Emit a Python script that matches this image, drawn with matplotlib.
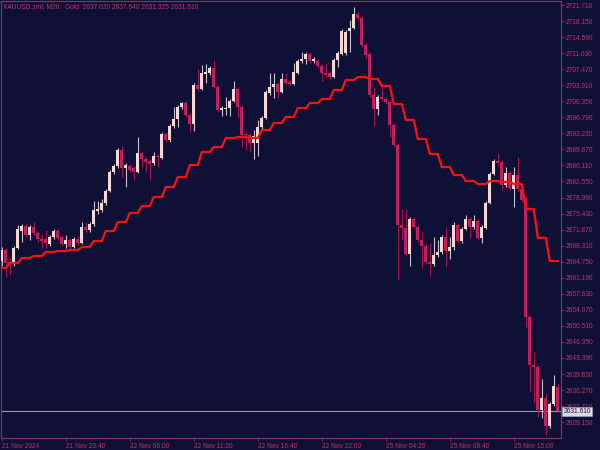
import numpy as np
import matplotlib.pyplot as plt

# XAUUSD M20 candles (bar 0 = 21 Nov 2024)
opens = [
    2664.9, 2667.3, 2664.7, 2664.5, 2667.8, 2671.6, 2672.7, 2670.7, 2672.5, 2671.1,
    2669.8, 2669.8, 2668.7, 2670.2, 2671.6, 2670.2, 2668.7, 2669.6, 2668.0, 2669.8,
    2668.9, 2672.5, 2671.8, 2673.1, 2676.0, 2676.2, 2677.8, 2680.4, 2684.7, 2686.0,
    2689.5, 2685.5, 2686.0, 2685.5, 2684.7, 2688.9, 2687.5, 2687.1, 2686.7, 2688.2,
    2687.8, 2693.1, 2691.8, 2694.9, 2696.4, 2699.1, 2700.0, 2697.3, 2695.3, 2704.0,
    2703.1, 2706.4, 2706.6, 2707.7, 2703.5, 2698.4, 2698.6, 2698.9, 2700.4, 2703.1,
    2699.1, 2693.1, 2692.9, 2691.1, 2691.1, 2694.6, 2696.6, 2702.2, 2703.5, 2704.2,
    2702.4, 2705.3, 2704.6, 2704.2, 2706.6, 2709.3, 2709.7, 2710.8, 2709.3, 2709.3,
    2708.2, 2706.6, 2706.6, 2705.7, 2709.5, 2710.8, 2711.0, 2715.9, 2716.6, 2719.7,
    2718.8, 2712.8, 2710.8, 2701.7, 2698.6, 2701.3, 2700.9, 2700.2, 2695.1, 2690.7,
    2672.9, 2672.2, 2666.5, 2674.2, 2672.5, 2669.6, 2668.2, 2664.7, 2664.2, 2666.2,
    2666.9, 2670.2, 2667.1, 2668.0, 2672.9, 2669.3, 2672.0, 2674.2, 2672.5, 2673.8,
    2670.0, 2672.2, 2677.8, 2684.2, 2687.1, 2686.9, 2681.8, 2684.4, 2680.9, 2684.0,
    2680.9, 2678.7, 2652.5, 2641.8, 2641.4, 2631.8, 2634.5, 2628.3, 2633.2, 2637.02,
]
highs = [
    2668.0, 2667.8, 2665.6, 2668.2, 2672.9, 2673.1, 2673.3, 2672.9, 2673.6, 2671.6,
    2670.9, 2671.8, 2670.7, 2672.0, 2672.0, 2670.7, 2670.7, 2670.0, 2670.2, 2670.4,
    2673.6, 2673.6, 2673.6, 2678.2, 2678.2, 2678.7, 2680.9, 2685.1, 2686.4, 2690.0,
    2690.4, 2686.7, 2686.4, 2686.0, 2692.4, 2689.3, 2688.0, 2687.5, 2689.1, 2688.7,
    2693.5, 2693.5, 2695.3, 2699.1, 2699.5, 2700.2, 2700.4, 2697.8, 2704.4, 2707.5,
    2708.4, 2708.6, 2708.2, 2709.5, 2704.0, 2699.3, 2701.3, 2700.9, 2704.9, 2703.5,
    2699.5, 2693.5, 2693.3, 2694.0, 2696.2, 2697.1, 2702.9, 2706.6, 2706.6, 2704.6,
    2706.6, 2706.6, 2705.1, 2708.8, 2709.7, 2711.3, 2711.3, 2711.3, 2710.2, 2709.7,
    2708.6, 2708.8, 2707.1, 2710.0, 2711.5, 2716.4, 2716.2, 2718.4, 2721.3, 2720.2,
    2719.3, 2713.3, 2711.3, 2703.5, 2701.7, 2704.4, 2701.3, 2700.6, 2695.5, 2691.1,
    2676.4, 2676.4, 2674.7, 2674.7, 2672.9, 2671.3, 2668.7, 2668.9, 2670.2, 2669.6,
    2670.7, 2672.5, 2670.2, 2673.6, 2673.3, 2672.5, 2675.1, 2674.7, 2675.1, 2674.2,
    2672.9, 2678.2, 2684.7, 2687.5, 2688.9, 2687.3, 2685.8, 2684.9, 2685.8, 2688.0,
    2681.3, 2679.1, 2652.9, 2644.7, 2641.8, 2638.7, 2635.6, 2633.6, 2639.6, 2637.64,
]
lows = [
    2663.8, 2661.4, 2661.8, 2663.8, 2667.6, 2669.1, 2670.2, 2669.6, 2670.7, 2669.1,
    2667.8, 2667.8, 2668.2, 2669.8, 2669.6, 2668.2, 2667.8, 2667.6, 2667.8, 2668.5,
    2668.7, 2671.3, 2671.3, 2672.7, 2675.3, 2675.8, 2677.3, 2680.2, 2684.2, 2685.5,
    2683.5, 2681.3, 2684.7, 2682.9, 2684.4, 2685.8, 2684.7, 2682.9, 2686.2, 2685.8,
    2687.5, 2691.3, 2691.3, 2694.4, 2694.6, 2698.6, 2696.9, 2693.5, 2693.8, 2702.6,
    2702.9, 2704.4, 2706.2, 2703.3, 2698.0, 2697.1, 2697.3, 2697.1, 2700.2, 2696.9,
    2690.2, 2689.5, 2689.1, 2687.5, 2688.2, 2694.2, 2696.4, 2701.7, 2701.1, 2701.1,
    2702.2, 2704.0, 2703.7, 2704.0, 2706.4, 2708.8, 2708.6, 2708.8, 2708.8, 2707.7,
    2704.9, 2705.7, 2705.1, 2705.5, 2708.0, 2710.6, 2710.6, 2711.3, 2716.4, 2718.4,
    2712.4, 2710.0, 2701.3, 2694.9, 2697.3, 2700.4, 2699.7, 2692.4, 2690.2, 2660.7,
    2669.6, 2666.0, 2663.8, 2672.0, 2669.1, 2663.4, 2664.2, 2661.6, 2663.8, 2665.8,
    2666.5, 2663.6, 2665.4, 2667.3, 2668.9, 2668.9, 2671.8, 2670.0, 2672.0, 2669.6,
    2668.9, 2672.0, 2677.6, 2684.0, 2686.2, 2680.7, 2681.3, 2680.7, 2676.9, 2680.4,
    2678.0, 2650.3, 2635.8, 2633.6, 2630.3, 2630.1, 2626.3, 2627.9, 2632.7, 2631.325,
]
closes = [
    2667.3, 2664.5, 2664.2, 2667.8, 2672.0, 2672.7, 2670.7, 2672.5, 2671.1, 2669.8,
    2669.3, 2668.9, 2670.2, 2671.6, 2670.0, 2668.7, 2669.6, 2668.0, 2669.8, 2668.9,
    2672.5, 2671.8, 2673.1, 2676.2, 2676.4, 2677.8, 2680.4, 2684.7, 2686.0, 2689.5,
    2685.5, 2686.2, 2685.1, 2684.7, 2688.9, 2687.5, 2686.9, 2686.4, 2688.2, 2688.0,
    2693.1, 2691.8, 2694.9, 2696.4, 2699.1, 2700.0, 2697.3, 2695.3, 2704.0, 2703.1,
    2706.6, 2706.8, 2707.7, 2703.5, 2698.4, 2698.9, 2698.9, 2700.4, 2703.1, 2699.1,
    2692.9, 2692.9, 2691.1, 2692.6, 2694.6, 2696.6, 2702.4, 2703.5, 2704.2, 2702.4,
    2705.3, 2704.4, 2704.2, 2706.8, 2709.3, 2709.7, 2710.8, 2709.3, 2709.7, 2708.2,
    2706.6, 2706.2, 2705.7, 2709.5, 2711.1, 2715.9, 2715.7, 2716.6, 2719.7, 2718.8,
    2712.8, 2710.6, 2701.7, 2698.6, 2701.3, 2700.9, 2700.2, 2695.1, 2690.7, 2672.9,
    2672.2, 2666.5, 2674.2, 2672.5, 2669.6, 2668.2, 2664.7, 2664.2, 2666.2, 2666.9,
    2670.2, 2667.1, 2668.0, 2672.9, 2669.3, 2672.0, 2674.2, 2672.5, 2673.8, 2670.0,
    2672.5, 2677.8, 2684.2, 2687.1, 2686.7, 2681.8, 2684.4, 2681.1, 2684.0, 2680.9,
    2678.4, 2652.5, 2641.8, 2641.4, 2631.8, 2634.5, 2628.3, 2633.2, 2637.2, 2631.61,
]

# higher timeframe (H1) line, one value per hour
ma_h1 = [2663.35, 2664.46, 2665.57, 2666.01, 2666.90, 2667.12, 2667.34, 2668.01,
         2669.34, 2671.56, 2673.56, 2675.56, 2677.11, 2679.11, 2681.32, 2683.54,
         2686.21, 2689.09, 2690.20, 2692.20, 2692.42, 2692.20, 2693.97, 2695.53,
         2696.86, 2698.85, 2699.96, 2700.85, 2702.85, 2705.07, 2705.73, 2705.29,
         2703.74, 2699.74, 2696.19, 2691.98, 2688.65, 2685.76, 2683.99, 2682.66,
         2681.99, 2682.66, 2682.43, 2681.99, 2676.44, 2670.01, 2664.91]
bars_per_hour = [2] + [3] * 46

time_labels = ['21 Nov 2024', '21 Nov 23:40', '22 Nov 06:00', '22 Nov 11:20',
               '22 Nov 16:40', '22 Nov 22:00', '25 Nov 04:20', '25 Nov 09:40',
               '25 Nov 15:00']
price_top = 2721.71
price_step = 3.56
bid = 2631.61
title = 'XAUUSD.sml, M20:  Gold  2637.020 2637.640 2631.325 2631.610'

bg = '#0e1036'
txt = '#b83a68'
spine = '#8e3560'
bull = '#f7d8d2'
bear = '#c41e5a'

plt.rcParams['font.family'] = ['Liberation Sans', 'DejaVu Sans']

o = np.array(opens)
h = np.array(highs)
l = np.array(lows)
c = np.array(closes)
x = np.arange(len(o))
up = c >= o

fig = plt.figure(figsize=(6, 4.5), dpi=100, facecolor=bg)
ax = fig.add_axes([1 / 600, 12 / 450, 560 / 600, 437 / 450], facecolor=bg)

# wicks
ax.vlines(x[up], l[up], h[up], color='#c9c2cc', lw=0.8, zorder=2)
ax.vlines(x[~up], l[~up], h[~up], color='#a0184a', lw=0.8, zorder=2)
# bodies
bot = np.minimum(o, c)
hgt = np.maximum(np.abs(c - o), 0.25)
ax.bar(x[up], hgt[up], bottom=bot[up], width=0.7, color=bull, lw=0, zorder=3)
ax.bar(x[~up], hgt[~up], bottom=bot[~up], width=0.7, color=bear, lw=0, zorder=3)

# H1 line
ma = np.repeat(ma_h1, bars_per_hour)
ax.plot(x, ma, color='#ff1010', lw=1.6, zorder=4)

# bid line
ax.axhline(bid, color='#9a9ab2', lw=0.8, zorder=1)
ax.text(1.004, bid, f'{bid:.3f}', transform=ax.get_yaxis_transform(),
        fontsize=4.8, color='#1a1840', va='center', ha='left',
        bbox=dict(boxstyle='square,pad=0.15', fc='#dcd8e4', ec='#9a9ab2', lw=0.6),
        zorder=6, clip_on=False)

ax.set_xlim(-0.2, 139.8)
ax.set_ylim(2625.63, 2722.6)

yt = [price_top - price_step * k for k in range(27)]
ax.yaxis.tick_right()
ax.set_yticks(yt)
ax.set_yticklabels([f'{v:.3f}' for v in yt])
ax.set_xticks(np.arange(len(time_labels)) * 16)
ax.set_xticklabels(time_labels, ha='left')
ax.tick_params(axis='both', colors=spine, labelcolor=txt, labelsize=4.8,
               length=2.5, width=0.6, pad=1)

for s in ax.spines.values():
    s.set_color(spine)
    s.set_linewidth(0.8)

ax.text(0.004, 0.995, title, transform=ax.transAxes, fontsize=4.8, color=txt,
        va='top', ha='left', zorder=7)

fig.savefig('out.png', dpi=100, facecolor=bg)
